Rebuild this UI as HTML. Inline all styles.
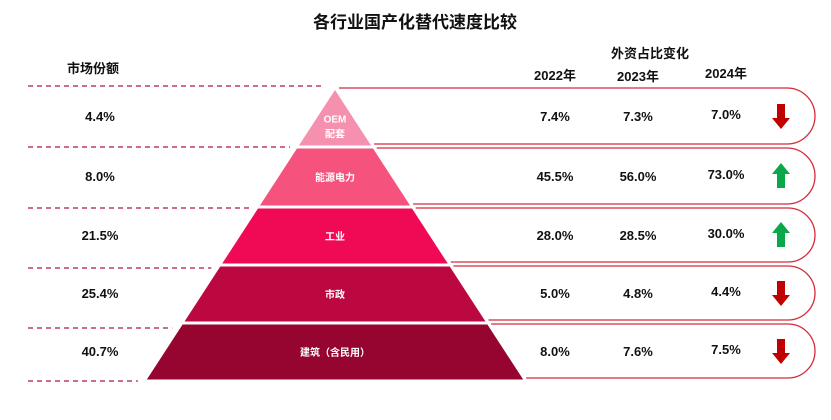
<!DOCTYPE html>
<html><head><meta charset="utf-8">
<style>
body{margin:0;background:#fff;}
svg text{font-family:"Liberation Sans","Noto Sans CJK SC",sans-serif;}
</style></head>
<body>
<svg id="chart" width="831" height="415" viewBox="0 0 831 415" xmlns="http://www.w3.org/2000/svg">
<text x="415" y="28" text-anchor="middle" font-size="17" font-weight="bold" fill="#111">各行业国产化替代速度比较</text>
<text x="93" y="73" text-anchor="middle" font-size="13" font-weight="bold" fill="#111">市场份额</text>
<text x="650" y="58" text-anchor="middle" font-size="13" font-weight="bold" fill="#111">外资占比变化</text>
<g id="layers"></g>
</svg>
<script>
const categories = ["OEM\n配套","能源电力","工业","市政","建筑（含民用）"];
const marketShare = ["4.4%","8.0%","21.5%","25.4%","40.7%"];
const years = ["2022年","2023年","2024年"];
const share2022 = [7.4,45.5,28.0,5.0,8.0];
const share2023 = [7.3,56.0,28.5,4.8,7.6];
const share2024 = [7.0,73.0,30.0,4.4,7.5];
const colors = ["#f590ae","#f5527e","#f00a55","#bc0840","#950530"];

const NS="http://www.w3.org/2000/svg";
const svg=document.getElementById('layers');
function mk(t,a){const e=document.createElementNS(NS,t);for(const k in a)e.setAttribute(k,a[k]);svg.appendChild(e);return e;}
const apexX=335, apexY=90, baseY=381, slope=0.65;
const n=categories.length;
const bounds=[90,147,207,265,323,381];
const colX=[555,638,726];
const yearY=[80,81,78];
const halfW=y=>(y-apexY)*slope;
years.forEach((y,i)=>{
  const t=mk('text',{x:colX[i],y:yearY[i],'text-anchor':'middle','font-size':13,'font-weight':'bold',fill:'#111'});
  
  
  t.textContent=y;
});
// left dashed lines
const dashEnds=[325,280,240,195,160,140];
const dashY=[86,147,208,268,328,381];
dashY.forEach((y,i)=>{
  const xe=apexX-halfW(Math.max(y,apexY+1))-8;
  const l=mk('line',{x1:28,y1:y,x2:Math.min(xe,325),y2:y,stroke:'#b0184a','stroke-width':1.2,'stroke-dasharray':'5,4'});
  
  
});
for(let i=0;i<n;i++){
  const y0=bounds[i]+(i?1.5:0), y1=bounds[i+1]-1.5;
  const w0=halfW(y0), w1=halfW(y1);
  const p=mk('polygon',{points:`${apexX-w0},${y0} ${apexX+w0},${y0} ${apexX+w1},${y1} ${apexX-w1},${y1}`,fill:colors[i]});
  
  
  const lines=categories[i].split('\n');
  const cy=(y0+y1)/2+(i===0?8:0);
  lines.forEach((s,j)=>{
    const t=mk('text',{x:apexX,y:cy+4+(j-(lines.length-1)/2)*15,'text-anchor':'middle','font-size':10,'font-weight':'bold',fill:'#fff'});
    
    
    t.textContent=s;
  });
  // right box
  const by0=bounds[i]-(i===0?2:-1), by1=bounds[i+1]-3;
  const xl0=apexX+halfW(Math.max(by0,apexY))+4, xl1=apexX+halfW(by1)+4;
  const r=(by1-by0)/2, xr=815-r;
  const b=mk('path',{d:`M${xl0},${by0} L${xr},${by0} A${r},${r} 0 0 1 ${xr},${by1} L${xl1},${by1}`,fill:'none',stroke:'#d42a3c','stroke-width':1.3});
  
  
  const my=(by0+by1)/2+5;
  const vals=[share2022[i],share2023[i],share2024[i]];
  vals.forEach((v,k)=>{
    const t=mk('text',{x:colX[k],y:my-(k===2?2:0),'text-anchor':'middle','font-size':13,'font-weight':'bold',fill:'#111'});
    
    
    t.textContent=v.toFixed(1)+'%';
  });
  const m=mk('text',{x:100,y:my,'text-anchor':'middle','font-size':13,'font-weight':'bold',fill:'#111'});
  
  
  m.textContent=marketShare[i];
  const up=share2024[i]>share2022[i];
  const ax=781, ay=(by0+by1)/2;
  const pts=up?`${ax-4},${ay+12} ${ax-4},${ay-2} ${ax-9},${ay-2} ${ax},${ay-13} ${ax+9},${ay-2} ${ax+4},${ay-2} ${ax+4},${ay+12}`
             :`${ax-4},${ay-12} ${ax-4},${ay+2} ${ax-9},${ay+2} ${ax},${ay+13} ${ax+9},${ay+2} ${ax+4},${ay+2} ${ax+4},${ay-12}`;
  const a=mk('polygon',{points:pts,fill:up?'#0aa84a':'#c00000'});
  
  
}
</script>
</body></html>
